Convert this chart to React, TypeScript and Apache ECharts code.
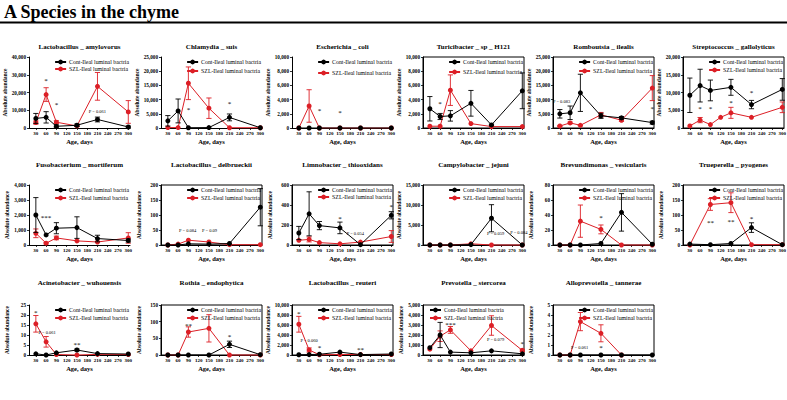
import React, { useEffect, useRef } from "react";
import * as echarts from "echarts";

// ---------------- data ----------------
const CONT_NAME = "Cont-Ileal luminal bactria";
const SZL_NAME = "SZL-Ileal luminal bactria";

const DAYS = [30, 60, 90, 150, 210, 300];
const X_TICKS = [30, 60, 90, 120, 150, 180, 210, 240, 270, 300];

const TITLES = [
  "Lactobacillus _ amylovorus", "Chlamydia _ suis", "Escherichia _ coli",
  "Turicibacter _ sp _ H121", "Romboutsia _ ilealis", "Streptococcus _ gallolyticus",
  "Fusobacterium _ mortiferum", "Lactobacillus _ delbrueckii", "Limnobacter _ thiooxidans",
  "Campylobacter _ jejuni", "Brevundimonas _ vesicularis", "Trueperella _ pyogenes",
  "Acinetobacter _ wuhouensis", "Rothia _ endophytica", "Lactobacillus _ reuteri",
  "Prevotella _ stercorea", "Alloprevotella _ tannerae",
];
const Y_MAX = [40000, 25000, 10000, 10000, 25000, 20000, 4000, 200, 600, 15000, 80, 200, 25, 150, 10000, 5000, 5];
const Y_STEP = [10000, 5000, 2000, 2000, 5000, 5000, 1000, 50, 200, 5000, 20, 50, 5, 50, 2000, 1000, 1];

type Note = [number, number, string];

// 1 Lactobacillus amylovorus
const amyCont = [5400, 6000, 960, 1540, 4800, 580];
const amyContSd = [2800, 3200, 800, 700, 1350, 500];
const amySzl = [3080, 18850, 3270, 1150, 23460, 9040];
const amySzlSd = [900, 3850, 800, 300, 7800, 6400];
const amyNotes: Note[] = [[60, 27200, "*"], [90, 13500, "*"], [210, 9500, "P = 0.061"]];
// 2 Chlamydia suis
const chlCont = [2520, 6010, 100, 150, 3730, 100];
const chlContSd = [1850, 4200, 0, 0, 1200, 0];
const chlSzl = [150, 150, 15750, 6970, 100, 100];
const chlSzlSd = [0, 0, 5750, 3600, 0, 0];
const chlNotes: Note[] = [[90, 6800, "*"], [210, 8800, "*"]];
// 3 Escherichia coli
const ecoCont = [0, 0, 0, 0, 0, 0];
const ecoContSd = [0, 0, 0, 0, 0, 0];
const ecoSzl = [0, 3100, 0, 0, 0, 0];
const ecoSzlSd = [0, 2290, 0, 0, 0, 0];
const ecoNotes: Note[] = [[90, 2500, "*"], [150, 2300, "*"]];
// 4 Turicibacter sp H121
const turCont = [2710, 1620, 1710, 3480, 430, 5240];
const turContSd = [1720, 430, 740, 1810, 100, 2520];
const turSzl = [250, 250, 5330, 620, 200, 200];
const turSzlSd = [0, 0, 2150, 0, 0, 0];
const turNotes: Note[] = [[60, 3500, "*"]];
// 5 Romboutsia ilealis
const romCont = [5000, 5360, 12380, 4290, 3570, 1900];
const romContSd = [1500, 2380, 6550, 900, 480, 500];
const romSzl = [700, 1790, 950, 4640, 2740, 14050];
const romSzlSd = [200, 300, 200, 840, 400, 4400];
const romNotes: Note[] = [[35, 9200, "P = 0.083"], [300, 7000, "*"]];
// 6 Streptococcus gallolyticus
const strCont = [9220, 11940, 10580, 11460, 6600, 10870];
const strContSd = [4850, 4610, 2920, 2240, 1170, 3050];
const strSzlX = [30, 60, 90, 120, 150, 210, 300];
const strSzl = [580, 2230, 970, 3010, 4270, 3010, 5830];
const strSzlSd = [0, 730, 0, 0, 1550, 0, 1500];
const strNotes: Note[] = [[60, 5600, "*"], [90, 5600, "*"], [150, 7400, "*"], [210, 10200, "*"]];
// 7 Fusobacterium mortiferum
const fusCont = [2000, 670, 1120, 1160, 430, 300];
const fusContSd = [1160, 0, 370, 720, 220, 100];
const fusSzl = [780, 120, 470, 275, 200, 470];
const fusSzlSd = [290, 50, 120, 0, 0, 350];
const fusNotes: Note[] = [[60, 1850, "***"]];
// 8 Lactobacillus delbrueckii
const delCont = [0, 0, 4, 3, 5, 126];
const delContSd = [0, 0, 0, 0, 0, 62];
const delSzl = [0, 3, 16, 10, 1, 1];
const delSzlSd = [0, 0, 0, 0, 0, 0];
const delNotes: Note[] = [[88, 47, "P = 0.084"], [152, 47, "P = 0.09"]];
// 9 Limnobacter thiooxidans
const limCont = [120, 312, 194, 171, 3, 297];
const limContSd = [66, 220, 41, 58, 0, 36];
const limSzl = [47, 56, 24, 12, 29, 85];
const limSzlSd = [0, 25, 0, 0, 0, 59];
const limNotes: Note[] = [[150, 276, "*"], [195, 120, "P = 0.054"], [300, 390, "*"]];
// 10 Campylobacter jejuni
const camCont = [0, 0, 0, 100, 6690, 0];
const camContSd = [0, 0, 0, 0, 3390, 0];
const camSzl = [0, 0, 0, 300, 0, 0];
const camSzlSd = [0, 0, 0, 0, 0, 0];
const camNotes: Note[] = [[222, 2900, "P = 0.059"], [290, 3100, "P = 0.084"]];
// 11 Brevundimonas vesicularis
const breCont = [0, 0, 0, 2, 43.5, 1];
const breContSd = [0, 0, 0, 0, 25, 0];
const breSzl = [0, 0, 31.8, 20.8, 0, 0];
const breSzlSd = [0, 0, 21.5, 5.9, 0, 0];
const breNotes: Note[] = [[150, 37, "*"]];
// 12 Trueperella pyogenes
const truX = [30, 90, 150, 210, 300];
const truCont = [3, 1, 5, 58, 1];
const truContSd = [0, 0, 0, 16, 0];
const truSzl = [0, 135, 141, 1, 1];
const truSzlSd = [0, 19.5, 33, 0, 0];
const truNotes: Note[] = [[90, 79, "**"], [150, 81, "**"], [210, 90, "*"]];
// 13 Acinetobacter wuhouensis
const aciCont = [0.6, 0, 1.1, 2.5, 0.7, 0.5];
const aciContSd = [0, 0, 0, 0.5, 0, 0];
const aciSzl = [15.6, 6.6, 0.25, 0, 0.3, 0.25];
const aciSzlSd = [4.15, 2.65, 0, 0, 0, 0];
const aciNotes: Note[] = [[30, 21.4, "*"], [63, 11.2, "P = 0.061"], [150, 5.8, "**"]];
// 14 Rothia endophytica
const rotCont = [0, 0, 0, 0, 32, 1];
const rotContSd = [0, 0, 0, 0, 9.5, 0];
const rotSzl = [0, 0, 69, 80, 0, 0];
const rotSzlSd = [0, 0, 15.5, 41, 0, 0];
const rotNotes: Note[] = [[90, 92, "**"], [210, 58, "*"]];
// 15 Lactobacillus reuteri
const reuCont = [50, 80, 150, 580, 80, 200];
const reuContSd = [0, 0, 0, 0, 0, 0];
const reuSzl = [6150, 1000, 50, 100, 100, 100];
const reuSzlSd = [1580, 420, 0, 0, 0, 0];
const reuNotes: Note[] = [[30, 8400, "*"], [60, 3000, "P = 0.060"], [90, 1600, "*"], [210, 1250, "**"]];
// 16 Prevotella stercorea
const preCont = [730, 2000, 290, 220, 415, 120];
const preContSd = [0, 1260, 0, 0, 0, 0];
const preSzl = [585, 1880, 2510, 415, 2950, 460];
const preSzlSd = [0, 530, 340, 0, 975, 120];
const preNotes: Note[] = [[90, 3150, "***"], [222, 1560, "P = 0.079"], [300, 1200, "*"]];
// 17 Alloprevotella tannerae
const allCont = [0, 0, 0, 0, 0, 0];
const allContSd = [0, 0, 0, 0, 0, 0];
const allSzlX = [30, 60, 90, 150, 210];
const allSzl = [0, 0, 3.34, 2.17, 0];
const allSzlSd = [0, 0, 0.91, 0.85, 0];
const allNotes: Note[] = [[88, 0.78, "P = 0.061"], [150, 0.83, "*"]];

const PANELS = [
  { contX: DAYS, cont: amyCont, contSd: amyContSd, szlX: DAYS, szl: amySzl, szlSd: amySzlSd, notes: amyNotes },
  { contX: DAYS, cont: chlCont, contSd: chlContSd, szlX: DAYS, szl: chlSzl, szlSd: chlSzlSd, notes: chlNotes },
  { contX: DAYS, cont: ecoCont, contSd: ecoContSd, szlX: DAYS, szl: ecoSzl, szlSd: ecoSzlSd, notes: ecoNotes },
  { contX: DAYS, cont: turCont, contSd: turContSd, szlX: DAYS, szl: turSzl, szlSd: turSzlSd, notes: turNotes },
  { contX: DAYS, cont: romCont, contSd: romContSd, szlX: DAYS, szl: romSzl, szlSd: romSzlSd, notes: romNotes },
  { contX: DAYS, cont: strCont, contSd: strContSd, szlX: strSzlX, szl: strSzl, szlSd: strSzlSd, notes: strNotes },
  { contX: DAYS, cont: fusCont, contSd: fusContSd, szlX: DAYS, szl: fusSzl, szlSd: fusSzlSd, notes: fusNotes },
  { contX: DAYS, cont: delCont, contSd: delContSd, szlX: DAYS, szl: delSzl, szlSd: delSzlSd, notes: delNotes },
  { contX: DAYS, cont: limCont, contSd: limContSd, szlX: DAYS, szl: limSzl, szlSd: limSzlSd, notes: limNotes },
  { contX: DAYS, cont: camCont, contSd: camContSd, szlX: DAYS, szl: camSzl, szlSd: camSzlSd, notes: camNotes },
  { contX: DAYS, cont: breCont, contSd: breContSd, szlX: DAYS, szl: breSzl, szlSd: breSzlSd, notes: breNotes },
  { contX: truX, cont: truCont, contSd: truContSd, szlX: truX, szl: truSzl, szlSd: truSzlSd, notes: truNotes },
  { contX: DAYS, cont: aciCont, contSd: aciContSd, szlX: DAYS, szl: aciSzl, szlSd: aciSzlSd, notes: aciNotes },
  { contX: DAYS, cont: rotCont, contSd: rotContSd, szlX: DAYS, szl: rotSzl, szlSd: rotSzlSd, notes: rotNotes },
  { contX: DAYS, cont: reuCont, contSd: reuContSd, szlX: DAYS, szl: reuSzl, szlSd: reuSzlSd, notes: reuNotes },
  { contX: DAYS, cont: preCont, contSd: preContSd, szlX: DAYS, szl: preSzl, szlSd: preSzlSd, notes: preNotes },
  { contX: DAYS, cont: allCont, contSd: allContSd, szlX: allSzlX, szl: allSzl, szlSd: allSzlSd, notes: allNotes },
];

// ---------------- layout & style ----------------
const W = 787;
const H = 400;
const FONT = "'Liberation Serif', 'Times New Roman', serif";
const RED = "#dc1f26";
const BLACK = "#000000";
const COL_LEFT = [29, 161, 292, 423, 553, 683];
const PLOT_W = 101;
const ROW_TOP = [57, 185, 305];
const ROW_H = [71, 60, 50];
const TITLE_Y = [47, 165, 283];
const FRAMED = [false, false, false, true, true, true, false, true, true, true, true, true, false, true, true, true, true];
const LEGEND_GAP = [1, 3, 5, 4, 3, 2, 2, 2, 1, 2, 2, 2, 2, 2, 2, 2, 2];
const LEGEND_LEFT = [false, false, false, false, false, false, false, false, false, false, false, false, false, false, false, true, false];

function fmtTick(v: number): string {
  return String(v).replace(/\B(?=(\d{3})+(?!\d))/g, ",");
}

function errorSeries(i: number, xs: number[], ms: number[], sds: number[], color: string, z: number) {
  const data: number[][] = [];
  xs.forEach((x, k) => {
    if (sds[k] > 0) data.push([x, ms[k], sds[k]]);
  });
  return {
    type: "custom",
    name: "errorbar",
    xAxisIndex: i,
    yAxisIndex: i,
    z,
    silent: true,
    clip: false,
    encode: { x: 0, y: 1 },
    data,
    renderItem: (_params: any, api: any) => {
      const x = api.value(0);
      const m = api.value(1);
      const s = api.value(2);
      const hi = api.coord([x, m + s]);
      const lo = api.coord([x, Math.max(0, m - s)]);
      const cw = 2.6;
      const st = { stroke: color, lineWidth: 0.9, fill: null };
      return {
        type: "group",
        children: [
          { type: "line", shape: { x1: hi[0], y1: hi[1], x2: lo[0], y2: lo[1] }, style: st },
          { type: "line", shape: { x1: hi[0] - cw, y1: hi[1], x2: hi[0] + cw, y2: hi[1] }, style: st },
          { type: "line", shape: { x1: lo[0] - cw, y1: lo[1], x2: lo[0] + cw, y2: lo[1] }, style: st },
        ],
      };
    },
  };
}

function buildOption() {
  const grid: any[] = [];
  const xAxis: any[] = [];
  const yAxis: any[] = [];
  const series: any[] = [];
  const legend: any[] = [];
  const graphic: any[] = [
    {
      type: "text",
      x: 4,
      y: 3,
      style: { text: "A Species in the chyme", fontSize: 18, fontWeight: "bold", fontFamily: FONT, fill: "#000" },
    },
    { type: "line", shape: { x1: 0, y1: 22.5, x2: W, y2: 22.5 }, style: { stroke: "#000", lineWidth: 2 } },
  ];

  PANELS.forEach((p, i) => {
    const row = Math.floor(i / 6);
    const col = i % 6;
    const left = COL_LEFT[col];
    const top = ROW_TOP[row];

    grid.push({
      left,
      top,
      width: PLOT_W,
      height: ROW_H[row],
      containLabel: false,
      outerBoundsMode: "none",
      show: FRAMED[i],
      borderColor: "#000",
      borderWidth: 1,
      backgroundColor: "transparent",
    });

    xAxis.push({
      type: "value",
      gridIndex: i,
      min: 10,
      max: 305,
      name: "Age, days",
      nameLocation: "middle",
      nameGap: 10,
      nameTextStyle: { fontFamily: FONT, fontSize: 6.5, fontWeight: "bold", color: "#000" },
      axisLine: { show: true, onZero: false, lineStyle: { color: "#000", width: 1 } },
      axisTick: { show: true, length: 2, customValues: X_TICKS, lineStyle: { color: "#000", width: 0.8 } },
      axisLabel: {
        show: true,
        customValues: X_TICKS,
        fontFamily: FONT,
        fontSize: 5,
        fontWeight: "bold",
        color: "#000",
        margin: 3,
      },
      splitLine: { show: false },
    });

    yAxis.push({
      type: "value",
      gridIndex: i,
      min: 0,
      max: Y_MAX[i],
      interval: Y_STEP[i],
      name: "Absolute abundance",
      nameLocation: "middle",
      nameGap: 19,
      nameTextStyle: { fontFamily: FONT, fontSize: 5.5, fontWeight: "bold", color: "#000" },
      axisLine: { show: true, onZero: false, lineStyle: { color: "#000", width: 1 } },
      axisTick: { show: true, length: 2, lineStyle: { color: "#000", width: 0.8 } },
      axisLabel: {
        fontFamily: FONT,
        fontSize: 5.2,
        fontWeight: "bold",
        color: "#000",
        margin: 3,
        formatter: (v: number) => fmtTick(v),
      },
      splitLine: { show: false },
    });

    graphic.push({
      type: "text",
      x: left + PLOT_W / 2,
      y: TITLE_Y[row],
      style: {
        text: TITLES[i],
        fontFamily: FONT,
        fontSize: 7,
        fontWeight: "bold",
        fill: "#000",
        align: "center",
        verticalAlign: "middle",
      },
    });

    const lg: any = {
      data: [{ name: CONT_NAME }, { name: SZL_NAME }],
      orient: "vertical",
      align: "left",
      top: top + 2,
      itemWidth: 11,
      itemHeight: 6,
      itemGap: LEGEND_GAP[i],
      padding: 0,
      selectedMode: false,
      textStyle: { fontFamily: FONT, fontSize: 5.8, color: "#000", lineHeight: 6, padding: [0, 0, 0, -2] },
    };
    if (LEGEND_LEFT[i]) lg.left = left + 6;
    else lg.right = W - (left + PLOT_W) + 1;
    legend.push(lg);

    // SZL (red) below, Cont (black) above
    series.push(errorSeries(i, p.szlX, p.szl, p.szlSd, RED, 2));
    series.push({
      type: "line",
      name: SZL_NAME,
      xAxisIndex: i,
      yAxisIndex: i,
      data: p.szlX.map((x, k) => [x, p.szl[k]]),
      symbol: "circle",
      symbolSize: 5,
      showSymbol: true,
      showAllSymbol: true,
      clip: false,
      silent: true,
      z: 3,
      lineStyle: { color: RED, width: 1 },
      itemStyle: { color: RED },
    });
    series.push(errorSeries(i, p.contX, p.cont, p.contSd, BLACK, 4));
    series.push({
      type: "line",
      name: CONT_NAME,
      xAxisIndex: i,
      yAxisIndex: i,
      data: p.contX.map((x, k) => [x, p.cont[k]]),
      symbol: "circle",
      symbolSize: 5,
      showSymbol: true,
      showAllSymbol: true,
      clip: false,
      silent: true,
      z: 5,
      lineStyle: { color: BLACK, width: 1 },
      itemStyle: { color: BLACK },
    });

    const notes = p.notes;
    series.push({
      type: "custom",
      name: "annotation",
      xAxisIndex: i,
      yAxisIndex: i,
      z: 10,
      silent: true,
      clip: false,
      encode: { x: 0, y: 1 },
      data: notes.map((n) => [n[0], n[1]]),
      renderItem: (params: any, api: any) => {
        const note = notes[params.dataIndex];
        const pt = api.coord([api.value(0), api.value(1)]);
        const star = note[2].charAt(0) === "*";
        return {
          type: "text",
          x: pt[0],
          y: pt[1] + (star ? 1.2 : 0),
          style: {
            text: note[2],
            fontFamily: FONT,
            fontSize: star ? 7 : 4.5,
            fill: "#000",
            align: "center",
            verticalAlign: "middle",
          },
        };
      },
    });
  });

  return {
    animation: false,
    backgroundColor: "#ffffff",
    tooltip: { show: false },
    grid,
    xAxis,
    yAxis,
    legend,
    series,
    graphic,
  };
}

export default function App() {
  const ref = useRef<HTMLDivElement>(null);
  useEffect(() => {
    document.body.style.margin = "0";
    if (!ref.current) return;
    const chart = echarts.init(ref.current, undefined, { renderer: "svg" });
    chart.setOption(buildOption() as any);
    return () => {
      chart.dispose();
    };
  }, []);
  return <div ref={ref} style={{ position: "relative", width: W, height: H, background: "#ffffff" }} />;
}
